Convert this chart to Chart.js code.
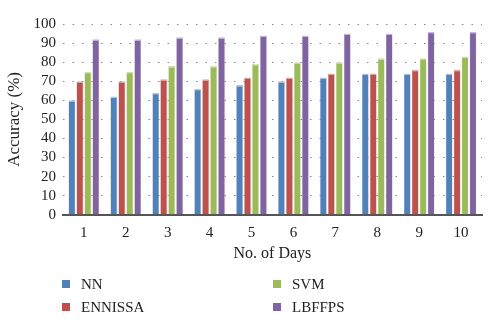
<!DOCTYPE html>
<html>
<head>
<meta charset="utf-8">
<script src="https://cdn.jsdelivr.net/npm/chart.js@4"></script>
<style>
  html, body { margin: 0; padding: 0; background: #fff; }
  #wrap { width: 500px; height: 329px; }
</style>
</head>
<body>
<div id="wrap"><canvas id="accChart" width="500" height="329"></canvas></div>
<script>
// Data
const days = ['1', '2', '3', '4', '5', '6', '7', '8', '9', '10'];
const nn = [60, 62, 64, 66, 68, 70, 72, 74, 74, 74];
const ennissa = [70, 70, 71, 71, 72, 72, 74, 74, 76, 76];
const svm = [75, 75, 78, 78, 79, 80, 80, 82, 82, 83];
const lbffps = [92, 92, 93, 93, 94, 94, 95, 95, 96, 96];
const yTicks = [0, 10, 20, 30, 40, 50, 60, 70, 80, 90, 100];

const serif = '"Liberation Serif", "DejaVu Serif", serif';

// Legend in two columns, drawn under the axis title
const legendPlugin = {
    id: 'twoColLegend',
    afterDraw(chart) {
        const ctx = chart.ctx;
        const spots = [[62, 284], [62, 307], [273, 284], [273, 307]];
        ctx.save();
        ctx.font = '15px ' + serif;
        ctx.textBaseline = 'middle';
        chart.data.datasets.forEach((ds, i) => {
            const [x, y] = spots[i];
            ctx.fillStyle = ds.backgroundColor;
            ctx.fillRect(x, y - 4, 8, 8);
            ctx.fillStyle = '#222';
            ctx.fillText(ds.label, x + 19, y + 1);
        });
        ctx.restore();
    }
};

function bar(label, data, color, edge) {
    return {
        label: label,
        data: data,
        backgroundColor: color,
        borderColor: edge,
        borderWidth: { top: 1.5, left: 0.5, right: 0.5, bottom: 0 },
        barPercentage: 0.86,
        categoryPercentage: 0.76
    };
}

new Chart(document.getElementById('accChart'), {
    type: 'bar',
    data: {
        labels: days,
        datasets: [
            bar('NN', nn, '#4f81bd', '#a9c4e6'),
            bar('ENNISSA', ennissa, '#c0504d', '#e3a3a1'),
            bar('SVM', svm, '#9bbb59', '#cde0a8'),
            bar('LBFFPS', lbffps, '#8064a2', '#c6b5dc')
        ]
    },
    options: {
        responsive: false,
        animation: false,
        layout: { padding: { left: 0, right: 18, top: 24, bottom: 62 } },
        plugins: {
            legend: { display: false },
            tooltip: { enabled: false }
        },
        scales: {
            x: {
                grid: { display: false },
                border: { display: true, color: '#555', width: 2 },
                ticks: { color: '#222', font: { family: serif, size: 15 }, padding: 1 },
                title: { display: true, text: 'No. of Days', color: '#222', font: { family: serif, size: 16 }, padding: { top: 1 } }
            },
            y: {
                min: 0,
                max: 100,
                afterBuildTicks: axis => { axis.ticks = yTicks.map(v => ({ value: v })); },
                grid: { color: '#888', lineWidth: 1, drawTicks: false },
                border: { display: false, dash: [1.5, 8] },
                ticks: { color: '#222', font: { family: serif, size: 15 }, padding: 7, autoSkip: false },
                title: { display: true, text: 'Accuracy (%)', color: '#222', font: { family: serif, size: 17 }, padding: { bottom: 2 } }
            }
        }
    },
    plugins: [legendPlugin]
});
</script>
</body>
</html>
